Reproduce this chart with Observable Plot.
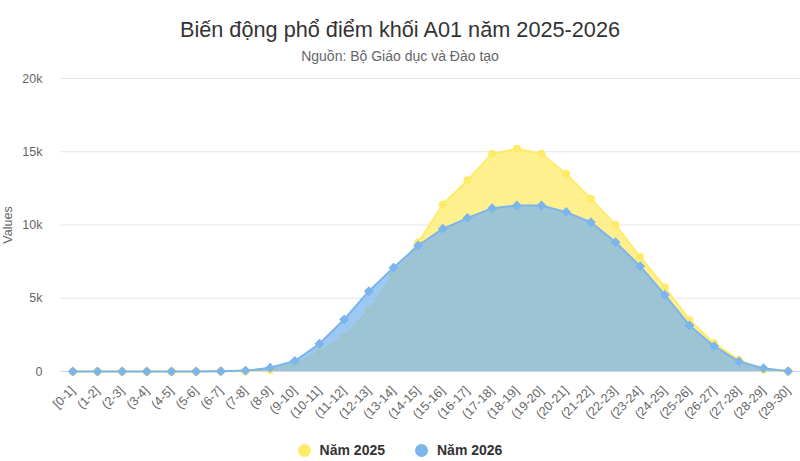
<!DOCTYPE html>
<html>
<head>
<meta charset="utf-8">
<script src="https://cdn.jsdelivr.net/npm/d3@7"></script>
<script src="https://cdn.jsdelivr.net/npm/@observablehq/plot@0.6"></script>
<style>
  body { margin: 0; background: #fff; font-family: "Liberation Sans", Arial, sans-serif; }
  #wrap { position: relative; width: 800px; height: 461px; overflow: hidden; }
  .title { position: absolute; left: 0; width: 800px; top: 17px; line-height: 26px; text-align: center; font-size: 21.7px; color: #333; }
  .subtitle { position: absolute; left: 0; width: 800px; top: 48px; line-height: 16px; text-align: center; font-size: 14px; color: #666; }
  #chart { position: absolute; left: 0; top: 60px; }
  .legend { position: absolute; left: 0; width: 800px; top: 441px; height: 18px; display: flex; justify-content: center; align-items: center; gap: 30px; font-size: 14px; font-weight: bold; color: #333; }
  .legend span.item { display: flex; align-items: center; }
  .legend i { display: inline-block; width: 13px; height: 13px; border-radius: 50%; margin-right: 9px; }
</style>
</head>
<body>
<div id="wrap">
  <div class="title">Biến động phổ điểm khối A01 năm 2025-2026</div>
  <div class="subtitle">Nguồn: Bộ Giáo dục và Đào tạo</div>
  <div id="chart"></div>
  <div class="legend" id="legend"></div>
</div>
<script>
const categories = ["[0-1]","(1-2]","(2-3]","(3-4]","(4-5]","(5-6]","(6-7]","(7-8]","(8-9]","(9-10]",
  "(10-11]","(11-12]","(12-13]","(13-14]","(14-15]","(15-16]","(16-17]","(17-18]","(18-19]","(19-20]",
  "(20-21]","(21-22]","(22-23]","(23-24]","(24-25]","(25-26]","(26-27]","(27-28]","(28-29]","(29-30]"];
const values2025 = [0,0,0,1,2,4,10,25,110,500,1320,2340,4160,6550,8800,11400,13050,14870,15200,14870,13500,11800,10010,7820,5750,3520,1920,790,120,10];
const values2026 = [0,0,0,1,2,5,15,60,250,720,1890,3550,5480,7080,8600,9740,10470,11150,11330,11330,10880,10190,8830,7190,5230,3140,1730,680,230,20];
const seriesNames = ["Năm 2025","Năm 2026"];
const yTicks = [0,5000,10000,15000,20000];
const colors = ["#ffeb69","#7cb5ec"];

const d25 = categories.map((c,i)=>({i, cat:c, v:values2025[i]}));
const d26 = categories.map((c,i)=>({i, cat:c, v:values2026[i]}));

const chart = Plot.plot({
  width: 800,
  height: 380,
  marginLeft: 60,
  marginRight: 0,
  marginTop: 18,
  marginBottom: 69,
  style: { fontFamily: "Liberation Sans, Arial, sans-serif", fontSize: "12px", color: "#666", background: "transparent" },
  x: { type: "linear", domain: [-0.5, categories.length - 0.5] },
  y: { domain: [0, 20000] },
  marks: [
    Plot.ruleY(yTicks.filter(t=>t>0), { stroke: "#e6e6e6", strokeWidth: 1 }),
    Plot.ruleY([0], { stroke: "#ccd6eb", strokeWidth: 1 }),
    Plot.axisY({ ticks: yTicks, tickSize: 0, tickPadding: 18, tickFormat: d3.format("~s"), fill: "#666", fontSize: 12.5,
      label: "Values", labelAnchor: "center", labelArrow: "none", labelOffset: 57 }),
    Plot.axisX({ ticks: d3.range(categories.length), tickFormat: i => categories[i], tickSize: 0, tickRotate: -45, tickPadding: 17, fill: "#666", fontSize: 12.5, label: null }),
    Plot.areaY(d25, { x: "i", y: "v", fill: colors[0], fillOpacity: 0.75 }),
    Plot.line(d25, { x: "i", y: "v", stroke: colors[0], strokeWidth: 2 }),
    Plot.dot(d25, { x: "i", y: "v", fill: colors[0], r: 4, symbol: "circle" }),
    Plot.areaY(d26, { x: "i", y: "v", fill: colors[1], fillOpacity: 0.75 }),
    Plot.line(d26, { x: "i", y: "v", stroke: colors[1], strokeWidth: 2 }),
    Plot.dot(d26, { x: "i", y: "v", fill: colors[1], r: 4.5, symbol: "diamond2" })
  ]
});
document.getElementById("chart").appendChild(chart);

const legend = document.getElementById("legend");
seriesNames.forEach((n,i)=>{
  const s = document.createElement("span");
  s.className = "item";
  s.innerHTML = `<i style="background:${colors[i]}"></i>${n}`;
  legend.appendChild(s);
});
</script>
</body>
</html>
